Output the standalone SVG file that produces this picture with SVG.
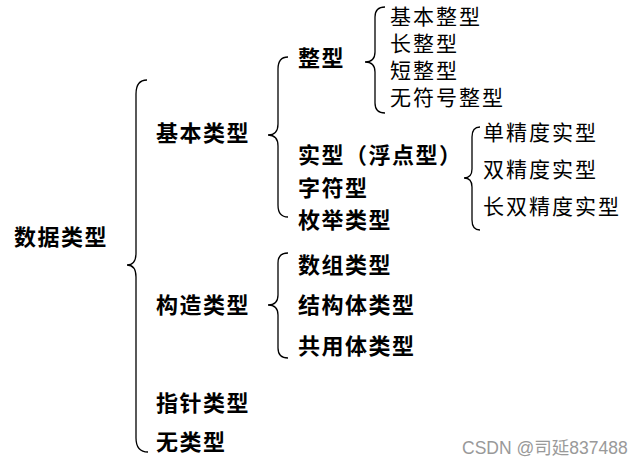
<svg xmlns="http://www.w3.org/2000/svg" width="644" height="467" viewBox="0 0 644 467">
<style>
.b{font-family:"Noto Sans CJK SC","Noto Sans CJK JP",sans-serif;font-size:22px;letter-spacing:1.5px;font-weight:bold;fill:#000}
.r{font-family:"Noto Sans CJK SC","Noto Sans CJK JP",sans-serif;font-size:21px;letter-spacing:2px;font-weight:normal;fill:#000}
.br{fill:none;stroke:#000;stroke-width:1.3}
.wm{font-family:"Liberation Sans","Noto Sans CJK SC",sans-serif;font-size:17.5px;fill:#999}
</style>
<rect width="644" height="467" fill="#fff"/>
<g id="connectors">
<path class="br" d="M147 80 Q136 80 136 94 L136 253 Q136 265 127 265 Q136 265 136 277 L136 438 Q136 452 148 452"/>
<path class="br" d="M288 57 Q278 57 278 69 L278 124 Q278 135 268 135 Q278 135 278 146 L278 205 Q278 217 288 217"/>
<path class="br" d="M288 253 Q278 253 278 263 L278 295 Q278 305 268 305 Q278 305 278 315 L278 348 Q278 358 288 358"/>
<path class="br" d="M385 7 Q375 7 375 17 L375 52 Q375 62 365 62 Q375 62 375 72 L375 103 Q375 113 385 113"/>
<path class="br" d="M480 127 Q472 127 472 137 L472 169 Q472 178 464 178 Q472 178 472 187 L472 220 Q472 230 480 230"/>
</g>
<g id="n-root"><text class="b" x="14" y="245">数据类型</text></g>
<g id="n-basic"><text class="b" x="156" y="141">基本类型</text></g>
<g id="n-struct"><text class="b" x="156" y="313">构造类型</text></g>
<g id="n-ptr"><text class="b" x="156" y="411">指针类型</text></g>
<g id="n-void"><text class="b" x="156" y="450">无类型</text></g>
<g id="n-int"><text class="b" x="298" y="66">整型</text></g>
<g id="n-real"><text class="b" x="298" y="163">实型（浮点型）</text></g>
<g id="n-char"><text class="b" x="298" y="196">字符型</text></g>
<g id="n-enum"><text class="b" x="298" y="228">枚举类型</text></g>
<g id="n-array"><text class="b" x="298" y="273">数组类型</text></g>
<g id="n-structure"><text class="b" x="298" y="313">结构体类型</text></g>
<g id="n-union"><text class="b" x="298" y="354">共用体类型</text></g>
<g id="n-int1"><text class="r" x="390" y="24">基本整型</text></g>
<g id="n-int2"><text class="r" x="390" y="51">长整型</text></g>
<g id="n-int3"><text class="r" x="390" y="78">短整型</text></g>
<g id="n-int4"><text class="r" x="390" y="105">无符号整型</text></g>
<g id="n-f1"><text class="r" x="483" y="140">单精度实型</text></g>
<g id="n-f2"><text class="r" x="483" y="177">双精度实型</text></g>
<g id="n-f3"><text class="r" x="483" y="214">长双精度实型</text></g>
<text class="wm" x="462" y="454">CSDN @司延837488</text>
</svg>
